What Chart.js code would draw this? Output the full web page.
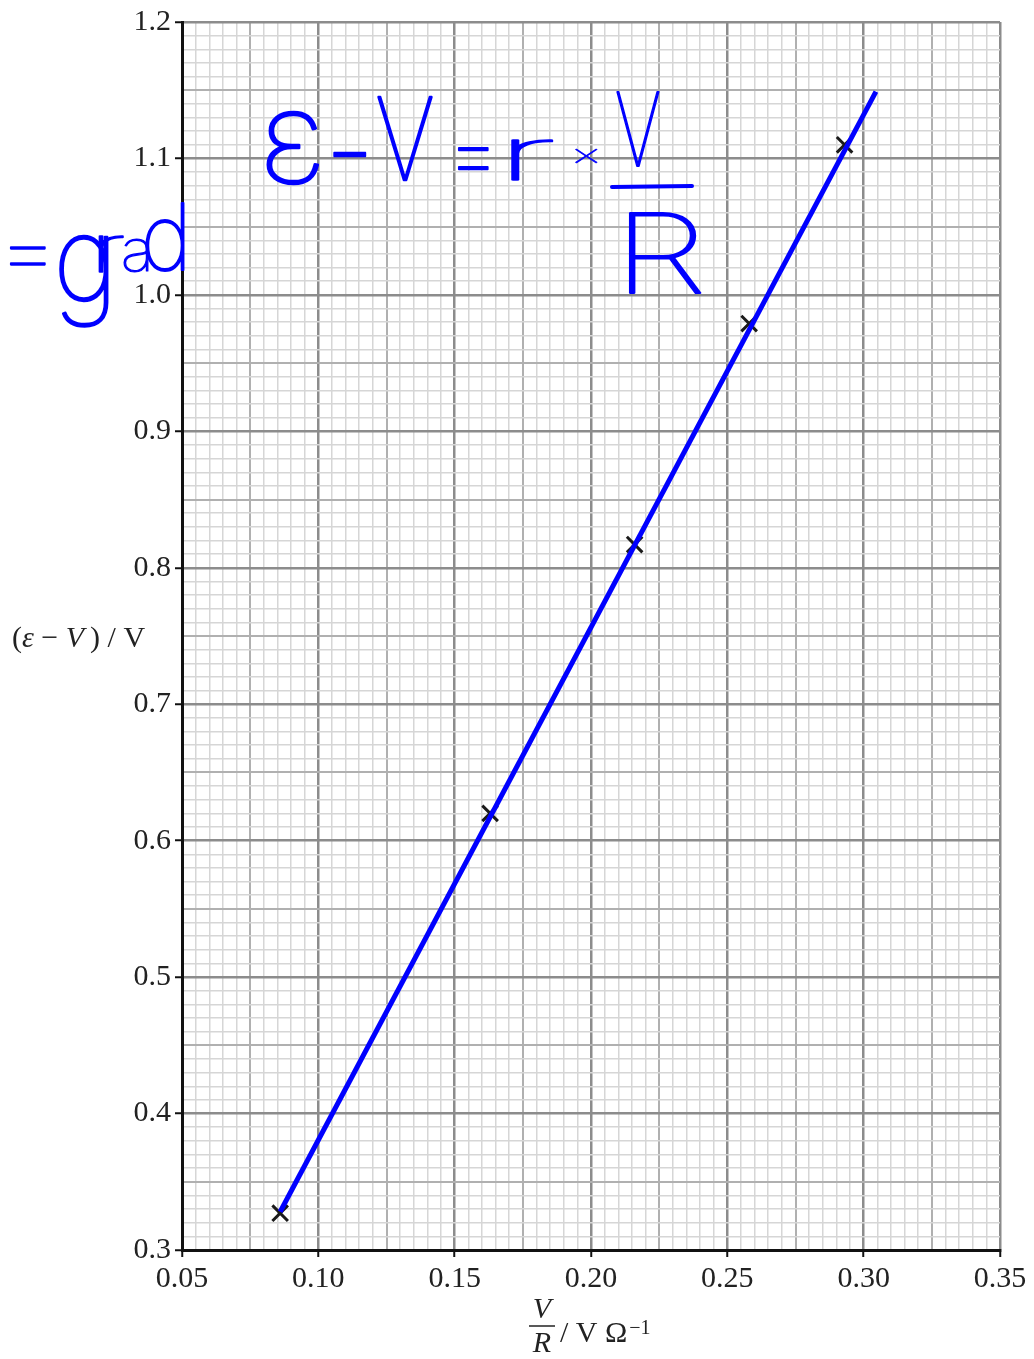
<!DOCTYPE html>
<html>
<head>
<meta charset="utf-8">
<script src="https://cdn.jsdelivr.net/npm/chart.js@4.4.1/dist/chart.umd.min.js"></script>
<style>
html, body { margin: 0; padding: 0; background: #fff; }
#graph { display: block; }
</style>
</head>
<body>
<canvas id="graph" width="1034" height="1359"></canvas>
<script>
// plotted points (the crosses)
const pointsX = [0.086, 0.163, 0.216, 0.258, 0.293];
const pointsY = [0.327, 0.620, 0.817, 0.979, 1.110];
// hand drawn line of best fit (its two ends)
const fitX = [0.086, 0.3045];
const fitY = [0.328, 1.149];
// axis ticks
const xTickValues = [0.05, 0.10, 0.15, 0.20, 0.25, 0.30, 0.35];
const xTickLabels = ['0.05', '0.10', '0.15', '0.20', '0.25', '0.30', '0.35'];
const yTickValues = [0.3, 0.4, 0.5, 0.6, 0.7, 0.8, 0.9, 1.0, 1.1, 1.2];
const yTickLabels = ['0.3', '0.4', '0.5', '0.6', '0.7', '0.8', '0.9', '1.0', '1.1', '1.2'];

const serif = '"Liberation Serif", "DejaVu Serif", serif';
const ink = '#0000ff';

// graph paper: small squares, heavier every 5, heaviest every 10
const gridColors = ['#d6d6d6', '#b0b0b0', '#8c8c8c'];
const gridWidths = [1.5, 2, 2.5];

function paperTicks(min, max, step) {
	var n = Math.round((max - min) / step);
	var t = [];
	for (var i = 0; i <= n; i++) t.push({ value: +(min + i * step).toFixed(4) });
	return t;
}
function level(value, min, step) {
	var k = Math.round((value - min) / step);
	return k % 10 === 0 ? 2 : (k % 5 === 0 ? 1 : 0);
}
function labelFor(value, values, labels) {
	var i = values.findIndex(v => Math.abs(v - value) < 1e-6);
	return i >= 0 ? labels[i] : '';
}

// draw text runs one after another (for italic symbols), returns end x
function drawRuns(ctx, x, y, runs) {
	for (let r of runs) {
		ctx.font = r.font;
		ctx.fillText(r.text, x, y);
		x += ctx.measureText(r.text).width;
	}
	return x;
}
// squeeze a glyph into a box, for the pen notes
function fitText(ctx, text, left, top, w, h) {
	ctx.save();
	ctx.font = '100 100px Inter, Roboto, "Open Sans", sans-serif';
	ctx.textAlign = 'left';
	ctx.textBaseline = 'alphabetic';
	var m = ctx.measureText(text);
	var gw = m.actualBoundingBoxLeft + m.actualBoundingBoxRight;
	var gh = m.actualBoundingBoxAscent + m.actualBoundingBoxDescent;
	ctx.translate(left, top);
	ctx.scale(w / gw, h / gh);
	ctx.lineWidth = 2;
	ctx.lineJoin = 'round';
	ctx.fillText(text, m.actualBoundingBoxLeft, m.actualBoundingBoxAscent);
	ctx.strokeText(text, m.actualBoundingBoxLeft, m.actualBoundingBoxAscent);
	ctx.restore();
}

const titles = {
	id: 'titles',
	afterDraw(chart) {
		const ctx = chart.ctx;
		ctx.save();
		ctx.fillStyle = '#222';
		ctx.textBaseline = 'alphabetic';
		ctx.textAlign = 'left';
		var rom = '30px ' + serif, ita = 'italic 30px ' + serif;
		// y axis title, horizontal, left of the axis
		drawRuns(ctx, 12, 647, [
			{ text: '(', font: rom }, { text: 'ε', font: ita }, { text: ' − ', font: rom },
			{ text: 'V', font: ita }, { text: '\u2009) / V', font: rom }
		]);
		// x axis title V/R / V Ω^-1
		ctx.textAlign = 'center';
		ctx.font = ita;
		ctx.fillText('V', 542, 1318);
		ctx.fillText('R', 542, 1352);
		ctx.strokeStyle = '#222';
		ctx.lineWidth = 1.5;
		ctx.beginPath();
		ctx.moveTo(529, 1326);
		ctx.lineTo(555, 1326);
		ctx.stroke();
		ctx.textAlign = 'left';
		var end = drawRuns(ctx, 560, 1342, [{ text: '/ V Ω', font: rom }]);
		drawRuns(ctx, end + 2, 1334, [{ text: '−1', font: '20px ' + serif }]);
		ctx.restore();

		// pen notes
		ctx.save();
		ctx.fillStyle = ink;
		ctx.strokeStyle = ink;
		fitText(ctx, 'ε', 267, 112, 52, 72);
		fitText(ctx, '−', 334, 152, 32, 4);
		fitText(ctx, 'V', 378, 97, 54, 83);
		fitText(ctx, '=', 458, 148, 30, 22);
		fitText(ctx, 'r', 512, 140, 40, 40);
		fitText(ctx, '×', 575, 149, 22, 14);
		fitText(ctx, 'V', 617, 92, 42, 74);
		fitText(ctx, 'R', 630, 213, 70, 80);
		fitText(ctx, '=', 10, 247, 35, 18);
		fitText(ctx, 'g', 60, 235, 48, 92);
		fitText(ctx, 'r', 99, 236, 24, 36);
		fitText(ctx, 'a', 124, 238, 24, 34);
		fitText(ctx, 'd', 146, 203, 38, 69);
		ctx.lineWidth = 4;
		ctx.lineCap = 'round';
		ctx.beginPath();
		ctx.moveTo(612, 187);
		ctx.lineTo(692, 186);
		ctx.stroke();
		ctx.restore();
	}
};

function paperScale(min, max, step, values, labels, thick) {
	return {
		type: 'linear',
		min: min,
		max: max,
		afterBuildTicks: s => { s.ticks = paperTicks(min, max, step); },
		afterFit: thick,
		ticks: {
			autoSkip: false,
			maxRotation: 0,
			padding: 4,
			color: '#222',
			font: { family: serif, size: 30 },
			callback: v => labelFor(v, values, labels)
		},
		grid: {
			color: c => gridColors[level(c.tick.value, min, step)],
			lineWidth: c => gridWidths[level(c.tick.value, min, step)],
			tickColor: c => labelFor(c.tick.value, values, labels) ? '#111' : 'rgba(0,0,0,0)',
			tickWidth: 2,
			tickLength: 7
		},
		border: { color: '#111', width: 3 }
	};
}

const nc = document.getElementById('graph');
const graph = new Chart(nc, {
	type: 'scatter',
	data: {
		datasets: [{
			label: 'best fit',
			data: fitX.map((x, i) => ({ x: x, y: fitY[i] })),
			showLine: true,
			borderColor: ink,
			borderWidth: 5,
			borderCapStyle: 'butt',
			pointRadius: 0
		}, {
			label: 'readings',
			data: pointsX.map((x, i) => ({ x: x, y: pointsY[i] })),
			pointStyle: 'crossRot',
			pointRadius: 11,
			borderColor: '#1a1a1a',
			borderWidth: 3
		}]
	},
	options: {
		responsive: false,
		animation: false,
		devicePixelRatio: 1,
		layout: { padding: { left: 0, top: 20, right: 34, bottom: 0 } },
		plugins: { legend: { display: false }, tooltip: { enabled: false } },
		scales: {
			x: paperScale(0.05, 0.35, 0.005, xTickValues, xTickLabels, s => { s.height = 109; }),
			y: paperScale(0.3, 1.2, 0.01, yTickValues, yTickLabels, s => { s.width = 182; })
		}
	},
	plugins: [titles]
});
</script>
</body>
</html>
